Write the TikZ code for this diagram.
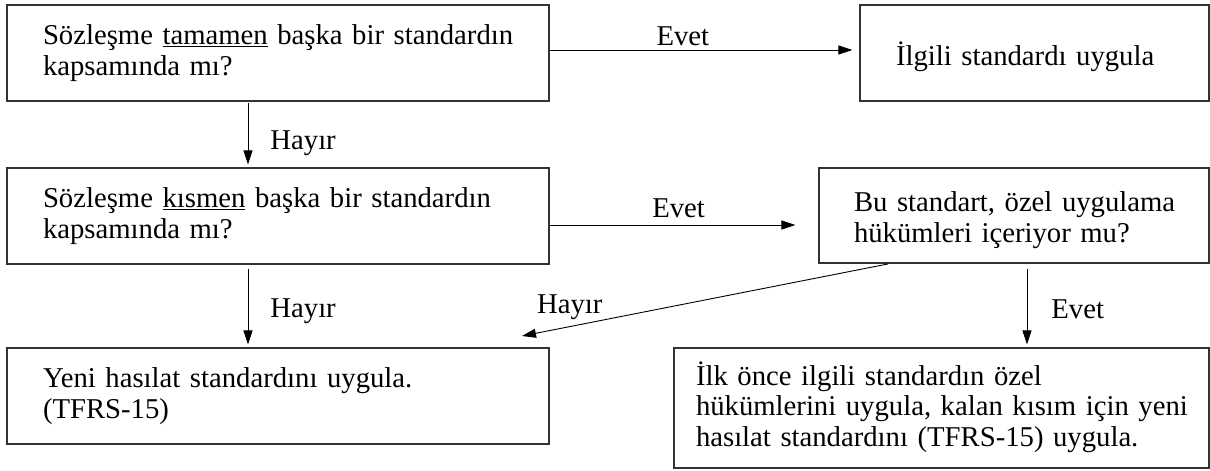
\documentclass[tikz,border=0pt]{standalone}
\usepackage{fontspec}
\setmainfont{Liberation Serif}
\usetikzlibrary{arrows.meta}
\tikzstyle{block} = [rectangle, draw=black!80, line width=1.1pt, inner sep=0pt,
                 align=left, font=\fontsize{28.7}{30.5}\selectfont]
\tikzstyle{branch} = [draw, line width=0.9pt, -{Triangle[length=14pt,width=9pt]}]
\tikzset{
	answer/.style={inner sep=0pt, font=\fontsize{28.7}{30.5}\selectfont},
}
\begin{document}
\begin{tikzpicture}[x=1pt, y=-1pt]

\useasboundingbox (0,0) rectangle (1210,471);

\node [block, minimum width=542pt, minimum height=96pt, text width=470pt] at (278,53) (tamamen) {\mbox{Sözleşme \underline{tamamen} başka bir standardın}\\kapsamında mı?};
\node [block, minimum width=349pt, minimum height=96pt, text width=277pt] at (1034.5,53) (ilgili) {\rule{0pt}{32pt}İlgili standardı uygula};
\node [block, minimum width=542pt, minimum height=96pt, text width=470pt] at (278,216) (kismen) {\mbox{Sözleşme \underline{kısmen} başka bir standardın}\\kapsamında mı?};
\node [block, minimum width=390pt, minimum height=95pt, text width=320pt] at (1014,215.5) (ozel) {\rule{0pt}{29pt}\mbox{Bu standart, özel uygulama}\\hükümleri içeriyor mu?};
\node [block, minimum width=542pt, minimum height=96pt, text width=470pt] at (278,396) (yeni) {Yeni hasılat standardını uygula.\\(TFRS-15)};
\node [block, minimum width=535pt, minimum height=120pt, text width=491pt] at (941.5,408) (once) {İlk önce ilgili standardın özel\\\mbox{hükümlerini uygula, kalan kısım için yeni}\\hasılat standardını (TFRS-15) uygula.\rule[-8pt]{0pt}{8pt}};

\coordinate (hayir) at (522,336);

%evet
\path [branch, shorten >=7pt] ([yshift=3pt]tamamen.east) -- node [answer, pos=0.43, anchor=base, yshift=5pt] {Evet} ([yshift=3pt]ilgili.west);
\path [branch, shorten >=23pt] ([yshift=-9pt]kismen.east) -- node [answer, pos=0.48, anchor=base, yshift=8pt] {Evet} ([yshift=-9.5pt]ozel.west);
\path [branch, shorten <=5pt, shorten >=3pt] ([xshift=13pt]ozel.south) -- node [answer, pos=0.65, anchor=base west, xshift=24pt] {Evet} ([xshift=85.5pt]once.north);
%hayir
\path [branch, shorten <=1pt, shorten >=3pt] ([xshift=-30pt]tamamen.south) -- node [answer, pos=0.73, anchor=base west, xshift=22pt] {Hayır} ([xshift=-30pt]kismen.north);
\path [branch, shorten <=4pt, shorten >=3pt] ([xshift=-30pt]kismen.south) -- node [answer, pos=0.64, anchor=base west, xshift=22pt] {Hayır} ([xshift=-30pt]yeni.north);
\path [branch, shorten <=2pt] ([xshift=-124pt]ozel.south) -- node [answer, pos=0.87, anchor=base, yshift=13pt] {Hayır} (hayir);

\end{tikzpicture}
\end{document}
